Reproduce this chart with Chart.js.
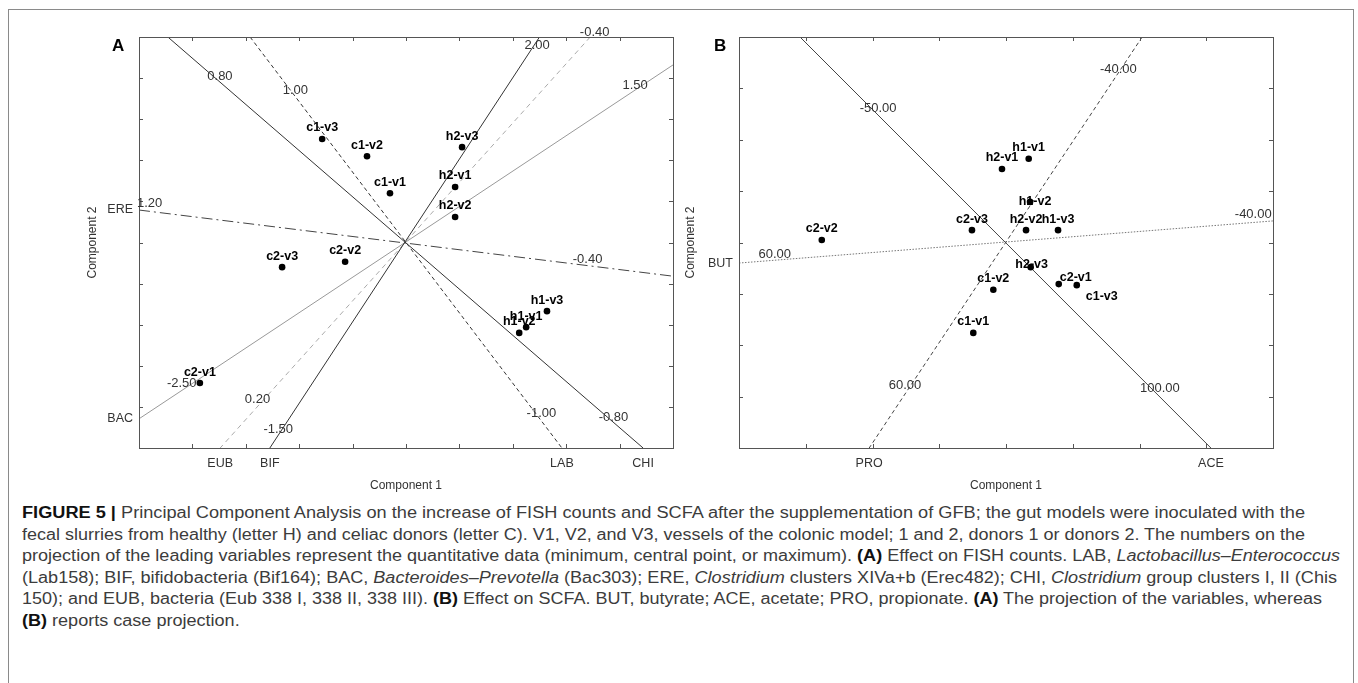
<!DOCTYPE html>
<html>
<head>
<meta charset="utf-8">
<script src="https://cdn.jsdelivr.net/npm/chart.js@4.4.1/dist/chart.umd.min.js"></script>
<style>
  body { margin: 0; background: #fff; width: 1358px; height: 683px; overflow: hidden; position: relative; font-family: "Liberation Sans", Arial, sans-serif; }
  #frame { position: absolute; left: 8px; top: 9px; width: 1346px; height: 720px; border: 1px solid #8a8a8a; box-sizing: border-box; }
  canvas { position: absolute; top: 0; }
  .letter { position: absolute; font: bold 17px "Liberation Sans", Arial, sans-serif; color: #000; line-height: 1; }
  #caption { position: absolute; left: 22px; top: 502px; font-size: 16px; line-height: 21.5px; color: #3c3c3c; }
  #caption div { white-space: nowrap; transform-origin: 0 0; width: max-content; }
  #caption b { color: #111; }
</style>
</head>
<body>
<div id="frame"></div>
<canvas id="chartA" width="690" height="500" style="left:0px"></canvas>
<canvas id="chartB" width="700" height="500" style="left:600px"></canvas>
<div class="letter" style="left:112px;top:37px">A</div>
<div class="letter" style="left:714px;top:37px">B</div>
<div id="caption">
  <div><b>FIGURE 5 |</b> Principal Component Analysis on the increase of FISH counts and SCFA after the supplementation of GFB; the gut models were inoculated with the</div>
  <div>fecal slurries from healthy (letter H) and celiac donors (letter C). V1, V2, and V3, vessels of the colonic model; 1 and 2, donors 1 or donors 2. The numbers on the</div>
  <div>projection of the leading variables represent the quantitative data (minimum, central point, or maximum). <b>(A)</b> Effect on FISH counts. LAB, <i>Lactobacillus–Enterococcus</i></div>
  <div>(Lab158); BIF, bifidobacteria (Bif164); BAC, <i>Bacteroides–Prevotella</i> (Bac303); ERE, <i>Clostridium</i> clusters XIVa+b (Erec482); CHI, <i>Clostridium</i> group clusters I, II (Chis</div>
  <div>150); and EUB, bacteria (Eub 338 I, 338 II, 338 III). <b>(B)</b> Effect on SCFA. BUT, butyrate; ACE, acetate; PRO, propionate. <b>(A)</b> The projection of the variables, whereas</div>
  <div><b>(B)</b> reports case projection.</div>
</div>
<script>
// ---- Panel A: FISH counts ----
const casesA = ['c1-v3', 'c1-v2', 'c1-v1', 'h2-v3', 'h2-v1', 'h2-v2', 'c2-v3', 'c2-v2', 'c2-v1', 'h1-v3', 'h1-v1', 'h1-v2'];
const comp1A = [3.43, 4.27, 4.70, 6.05, 5.92, 5.92, 2.68, 3.86, 1.14, 7.64, 7.25, 7.12];
const comp2A = [7.52, 7.10, 6.20, 7.32, 6.35, 5.62, 4.40, 4.53, 1.58, 3.33, 2.94, 2.80];

// projection of the leading variables: both ends of each line, and the value printed at each end
const varsA = ['CHI', 'LAB', 'ERE', 'BIF', 'EUB', 'BAC'];
const varFromA = [[0.54, 10], [2.08, 10], [0, 5.79], [7.50, 10], [8.45, 10], [0, 0.71]];
const varToA = [[9.44, 0], [7.92, 0], [10, 4.18], [2.45, 0], [1.52, 0], [10, 9.32]];
const fromValA = [0.80, 1.00, 1.20, 2.00, -0.40, -2.50];
const toValA = [-0.80, -1.00, -0.40, -1.50, 0.20, 1.50];

// ---- Panel B: SCFA ----
const casesB = ['h1-v1', 'h2-v1', 'h1-v2', 'h2-v2', 'h1-v3', 'c2-v3', 'c2-v2', 'h2-v3', 'c2-v1', 'c1-v3', 'c1-v2', 'c1-v1'];
const comp1B = [4.34, 3.94, 4.36, 4.30, 4.78, 3.49, 1.24, 4.37, 4.79, 5.06, 3.81, 3.51];
const comp2B = [5.63, 5.43, 4.79, 4.24, 4.24, 4.24, 4.05, 3.52, 3.19, 3.17, 3.08, 2.24];

const varsB = ['ACE', 'PRO', 'BUT'];
const varFromB = [[0.914, 8], [6.04, 8], [0, 3.60]];
const varToB = [[7.07, 0], [1.95, 0], [8, 4.42]];
const fromValB = [-50.00, -40.00, 60.00];
const toValB = [100.00, 60.00, -40.00];

// ---- look ----
const styleA = {
  CHI: { color: '#333', dash: [] },
  LAB: { color: '#333', dash: [4, 3] },
  ERE: { color: '#444', dash: [11, 4, 2, 4] },
  BIF: { color: '#333', dash: [] },
  EUB: { color: '#aaa', dash: [5, 4] },
  BAC: { color: '#999', dash: [] }
};
const styleB = {
  ACE: { color: '#444', dash: [] },
  PRO: { color: '#444', dash: [4, 3] },
  BUT: { color: '#777', dash: [1.5, 1.5] }
};
// where the end values sit: fraction along the line, then pixel nudge
const valPosA = {
  CHI: [[0.097, 6, 0], [0.925, 6, 0]],
  LAB: [[0.129, 5, 0], [0.915, 6, 0]],
  ERE: [[0.02, 0, -8], [0.84, 0, -6]],
  BIF: [[0.02, 3, 0], [0.954, -4, 0]],
  EUB: [[-0.012, 0, 0], [0.883, -6, 0]],
  BAC: [[0.08, 0, -7], [0.929, 0, -5]]
};
const valPosB = {
  ACE: [[0.173, 7, 0], [0.854, 9, 0]],
  PRO: [[0.08, -2, 0], [0.847, -6, 0]],
  BUT: [[0.067, 0, -6], [0.963, 0, -8]]
};
const caseNudgeB = { 'h1-v2': [5, 0], 'h2-v3': [1, -3], 'c2-v1': [17, -7], 'c1-v3': [25, 11] };

const FONT = '"Liberation Sans", Arial, sans-serif';

function edgeTicks(vars, from, to, onBottom) {
  const out = [];
  vars.forEach((n, i) => {
    [from[i], to[i]].forEach(pt => {
      if (onBottom && pt[1] === 0) out.push({ value: pt[0], name: n });
      if (!onBottom && pt[0] === 0) out.push({ value: pt[1], name: n });
    });
  });
  return out.sort((a, b) => a.value - b.value);
}

function makePanel(id, p) {
  const xt = edgeTicks(p.vars, p.from, p.to, true);
  const yt = edgeTicks(p.vars, p.from, p.to, false);

  const datasets = p.vars.map((n, i) => ({
    type: 'line',
    label: n,
    data: [{ x: p.from[i][0], y: p.from[i][1] }, { x: p.to[i][0], y: p.to[i][1] }],
    borderColor: p.style[n].color,
    borderDash: p.style[n].dash,
    borderWidth: 1,
    pointRadius: 0,
    fill: false,
    order: 2
  }));
  datasets.push({
    type: 'scatter',
    label: 'cases',
    data: p.cases.map((n, i) => ({ x: p.c1[i], y: p.c2[i] })),
    backgroundColor: '#000',
    borderWidth: 0,
    pointRadius: 3.3,
    order: 1
  });

  const decor = {
    id: 'decor',
    afterDraw(chart) {
      const { ctx, chartArea: a, scales: { x, y } } = chart;
      ctx.save();
      // frame with inward ticks
      ctx.strokeStyle = '#555';
      ctx.lineWidth = 1;
      ctx.strokeRect(a.left + 0.5, a.top + 0.5, a.right - a.left, a.bottom - a.top);
      ctx.beginPath();
      for (let v = 1; v < p.xMax; v++) {
        const px = Math.round(x.getPixelForValue(v)) + 0.5;
        ctx.moveTo(px, a.top); ctx.lineTo(px, a.top + 4);
        ctx.moveTo(px, a.bottom); ctx.lineTo(px, a.bottom - 4);
      }
      for (let v = 1; v < p.yMax; v++) {
        const py = Math.round(y.getPixelForValue(v)) + 0.5;
        ctx.moveTo(a.left, py); ctx.lineTo(a.left + 4, py);
        ctx.moveTo(a.right, py); ctx.lineTo(a.right - 4, py);
      }
      ctx.stroke();

      // values at the ends of the variable lines
      ctx.fillStyle = '#333';
      ctx.font = '13px ' + FONT;
      ctx.textAlign = 'center';
      ctx.textBaseline = 'middle';
      p.vars.forEach((n, i) => {
        const x0 = x.getPixelForValue(p.from[i][0]), y0 = y.getPixelForValue(p.from[i][1]);
        const x1 = x.getPixelForValue(p.to[i][0]), y1 = y.getPixelForValue(p.to[i][1]);
        [p.fromVal[i], p.toVal[i]].forEach((val, k) => {
          const [t, dx, dy] = p.valPos[n][k];
          ctx.fillText(val.toFixed(2), x0 + (x1 - x0) * t + dx, y0 + (y1 - y0) * t + dy);
        });
      });

      // case names
      ctx.fillStyle = '#000';
      ctx.font = 'bold 12.5px ' + FONT;
      const pts = chart.getDatasetMeta(chart.data.datasets.length - 1).data;
      pts.forEach((el, i) => {
        const nudge = p.nudge[p.cases[i]] || [0, -11];
        ctx.fillText(p.cases[i], el.x + nudge[0], el.y + nudge[1]);
      });
      ctx.restore();
    }
  };

  return new Chart(document.getElementById(id), {
    type: 'scatter',
    data: { datasets },
    options: {
      responsive: false,
      animation: false,
      events: [],
      layout: { padding: { left: 0, top: 37, right: p.padRight, bottom: 0 } },
      plugins: { legend: { display: false }, tooltip: { enabled: false } },
      scales: {
        x: {
          type: 'linear', min: 0, max: p.xMax,
          grid: { display: false, drawTicks: false },
          border: { display: false },
          afterBuildTicks: s => { s.ticks = xt.map(t => ({ value: t.value })); },
          ticks: { autoSkip: false, maxRotation: 0, padding: 8, color: '#333', font: { size: 12.5, family: FONT }, callback: (v, i) => xt[i] ? xt[i].name : '' },
          title: { display: true, text: 'Component 1', color: '#333', font: { size: 12, family: FONT }, padding: { top: 0, bottom: 7 } },
          afterFit: s => { s.height = 52; }
        },
        y: {
          type: 'linear', min: 0, max: p.yMax,
          grid: { display: false, drawTicks: false },
          border: { display: false },
          afterBuildTicks: s => { s.ticks = yt.map(t => ({ value: t.value })); },
          ticks: { autoSkip: false, padding: 6, color: '#333', font: { size: 12.5, family: FONT }, callback: (v, i) => yt[i] ? yt[i].name : '' },
          title: { display: true, text: 'Component 2', color: '#333', font: { size: 12, family: FONT }, padding: { top: p.titleOffset, bottom: 0 } },
          afterFit: s => { s.width = 139; }
        }
      }
    },
    plugins: [decor]
  });
}

makePanel('chartA', {
  cases: casesA, c1: comp1A, c2: comp2A,
  vars: varsA, from: varFromA, to: varToA, fromVal: fromValA, toVal: toValA,
  style: styleA, valPos: valPosA, nudge: {},
  xMax: 10, yMax: 10, padRight: 17, titleOffset: 85
});
makePanel('chartB', {
  cases: casesB, c1: comp1B, c2: comp2B,
  vars: varsB, from: varFromB, to: varToB, fromVal: fromValB, toVal: toValB,
  style: styleB, valPos: valPosB, nudge: caseNudgeB,
  xMax: 8, yMax: 8, padRight: 27, titleOffset: 83
});

// stretch caption lines to the widths they have in the figure
const lineEnds = [1305, 1305, 1340, 1337, 1322];
const rows = document.querySelectorAll('#caption div');
let sum = 0;
rows.forEach((r, i) => {
  if (i < lineEnds.length) {
    const k = (lineEnds[i] - 22) / r.getBoundingClientRect().width;
    sum += k;
    r.style.transform = 'scaleX(' + k + ')';
  } else {
    r.style.transform = 'scaleX(' + (sum / lineEnds.length) + ')';
  }
});
</script>
</body>
</html>
